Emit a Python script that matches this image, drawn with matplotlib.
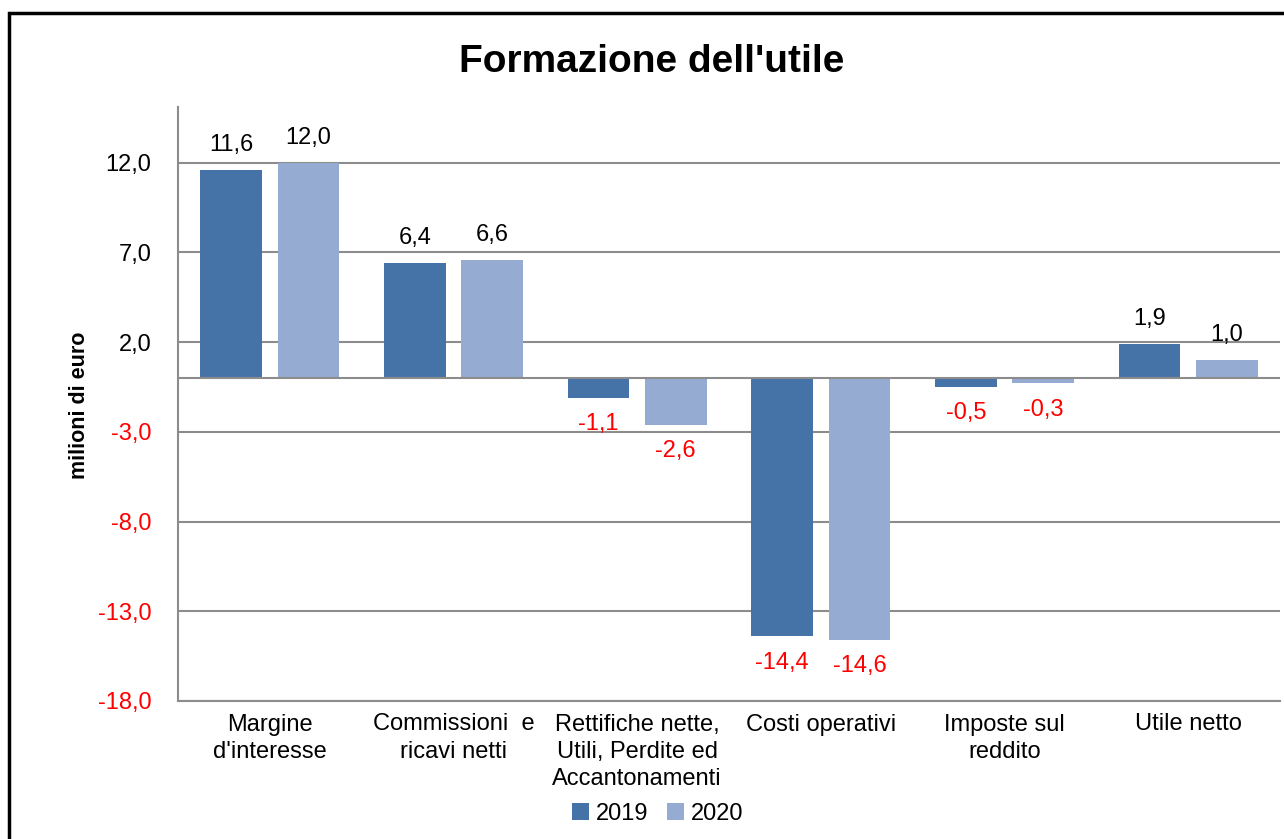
import matplotlib
matplotlib.use('Agg')
import matplotlib.pyplot as plt
import numpy as np
from matplotlib.patches import Rectangle

plt.rcParams['font.family'] = ['Liberation Sans Narrow', 'Liberation Sans', 'DejaVu Sans']

categorie = ["Margine\nd'interesse", "Commissioni  e\nricavi netti",
             "Rettifiche nette,\nUtili, Perdite ed\nAccantonamenti",
             "Costi operativi", "Imposte sul\nreddito", "Utile netto"]
anni = ['2019', '2020']
v2019 = [11.6, 6.4, -1.1, -14.4, -0.5, 1.9]
v2020 = [12.0, 6.6, -2.6, -14.6, -0.3, 1.0]
yticks = [12.0, 7.0, 2.0, -3.0, -8.0, -13.0, -18.0]

c2019 = '#4673a7'
c2020 = '#95abd2'

fig = plt.figure(figsize=(12.84, 8.39), dpi=100)
ax = fig.add_axes([178/1284, 1-701/839, 1102/1284, (701-107)/839])

x = np.arange(len(categorie))
w = 0.335
off = 0.21
b1 = ax.bar(x - off, v2019, w, color=c2019, label=anni[0], zorder=3)
b2 = ax.bar(x + off, v2020, w, color=c2020, label=anni[1], zorder=3)

for bars, vals in [(b1, v2019), (b2, v2020)]:
    for b, v in zip(bars, vals):
        txt = f'{v:.1f}'.replace('.', ',')
        cx = b.get_x() + b.get_width()/2
        if v >= 0:
            ax.annotate(txt, (cx, v), xytext=(0, 10), textcoords='offset points',
                        ha='center', va='bottom', fontsize=17, color='black')
        else:
            ax.annotate(txt, (cx, v), xytext=(0, -11), textcoords='offset points',
                        ha='center', va='top', fontsize=17, color='red')

ax.set_xlim(-0.5, len(categorie) - 0.5)
ax.set_ylim(-18, 15.1)
ax.set_yticks(yticks)
ax.set_yticklabels([f'{t:.1f}'.replace('.', ',') for t in yticks], fontsize=17)
for lab, t in zip(ax.get_yticklabels(), yticks):
    if t < 0:
        lab.set_color('red')
ax.tick_params(axis='y', length=0, pad=19)
ax.set_xticks(x)
ax.set_xticklabels(categorie, fontsize=17, linespacing=1.3)
ax.tick_params(axis='x', length=0, pad=9)

ax.yaxis.grid(True, color='#8c8c8c', linewidth=1.5, zorder=0)
ax.axhline(0, color='#8c8c8c', linewidth=1.5, zorder=4)
for s in ['top', 'right']:
    ax.spines[s].set_visible(False)
for s in ['left', 'bottom']:
    ax.spines[s].set_color('#8c8c8c')
    ax.spines[s].set_linewidth(1.5)

ax.set_ylabel('milioni di euro', fontsize=15.5, fontweight='bold')
ax.yaxis.set_label_coords(-88/1102, (701-405)/594)

fig.text(652/1284, 1-62/839, "Formazione dell'utile", ha='center', va='center',
         fontsize=28, fontweight='bold', family=['Liberation Sans', 'DejaVu Sans'])

fig.legend(handles=[b1, b2], loc='center', bbox_to_anchor=(658/1284, 1-814/839),
           ncol=2, frameon=False, fontsize=17, handlelength=0.7, handleheight=0.7,
           handletextpad=0.3, columnspacing=0.8)

fig.patches.append(Rectangle((9/1284, -0.1), 1.2, 1-13/839+0.1, transform=fig.transFigure,
                             fill=False, edgecolor='black', linewidth=2.5, figure=fig))

fig.savefig('out.png', dpi=100)
